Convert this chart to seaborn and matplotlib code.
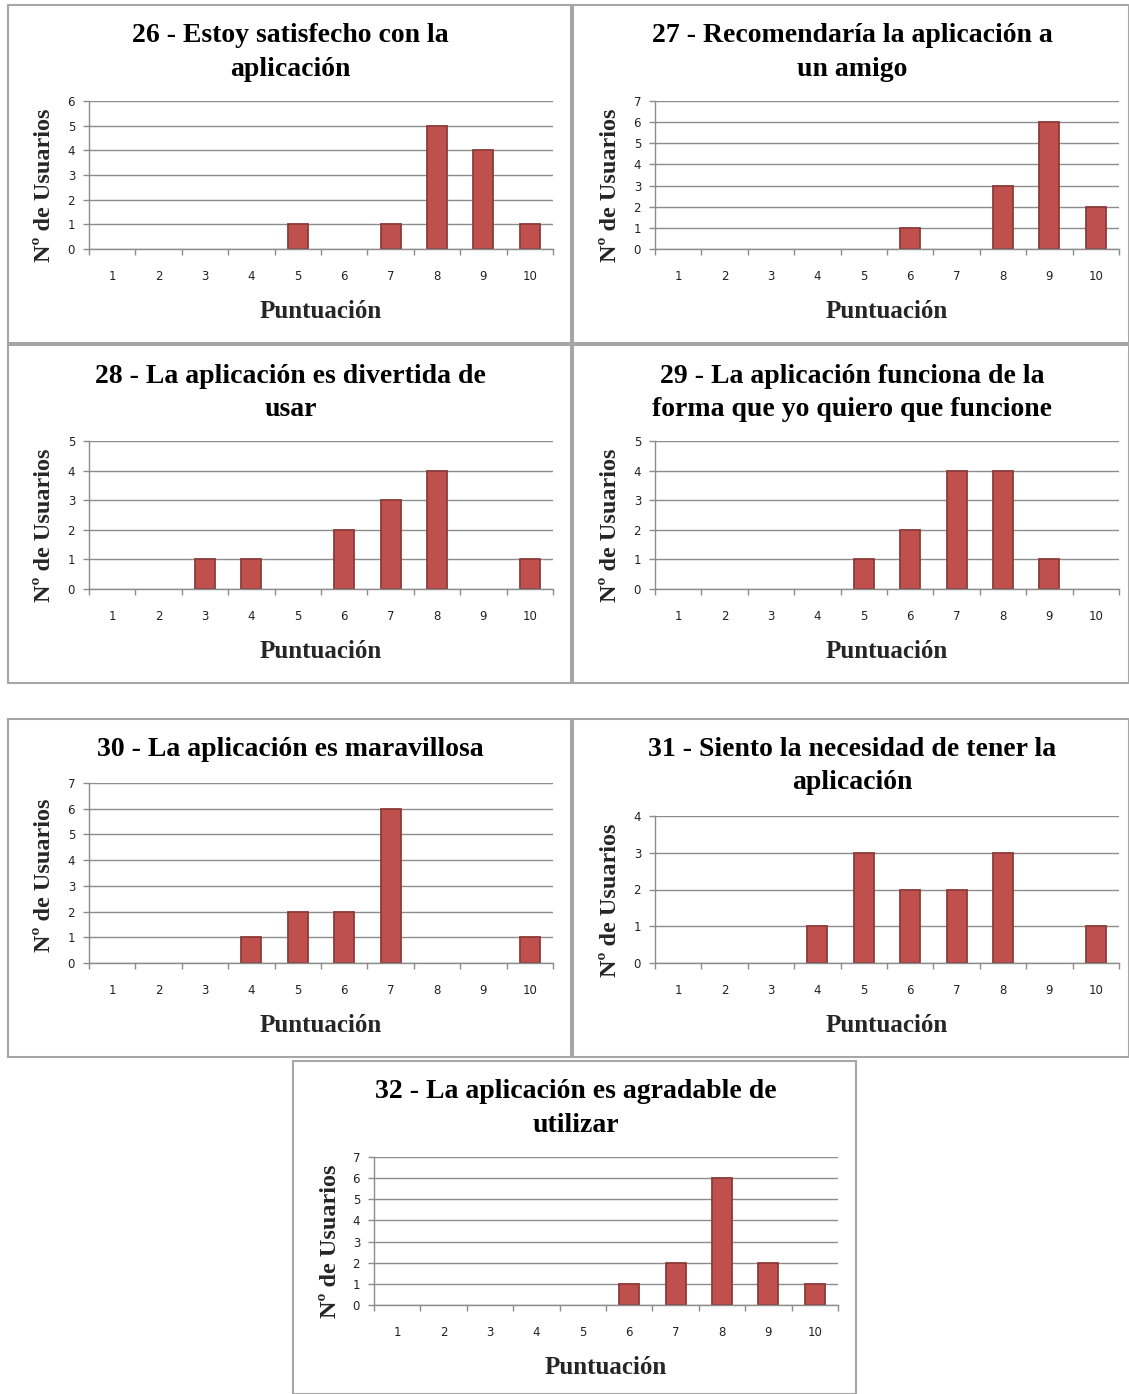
import numpy as np
import pandas as pd
import seaborn as sns
import matplotlib
matplotlib.use("Agg")
import matplotlib.pyplot as plt
from matplotlib.patches import Rectangle
from matplotlib.ticker import FixedLocator

# datos de las preguntas 26 - 32
puntuaciones = [str(i) for i in range(1, 11)]

titulos = [
    ["26 - Estoy satisfecho con la", "aplicación"],
    ["27 - Recomendaría la aplicación a", "un amigo"],
    ["28 - La aplicación es divertida de", "usar"],
    ["29 - La aplicación funciona de la", "forma que yo quiero que funcione"],
    ["30 - La aplicación es maravillosa"],
    ["31 - Siento la necesidad de tener la", "aplicación"],
    ["32 - La aplicación es agradable de", "utilizar"],
]

p26 = [0, 0, 0, 0, 1, 0, 1, 5, 4, 1]
p27 = [0, 0, 0, 0, 0, 1, 0, 3, 6, 2]
p28 = [0, 0, 1, 1, 0, 2, 3, 4, 0, 1]
p29 = [0, 0, 0, 0, 1, 2, 4, 4, 1, 0]
p30 = [0, 0, 0, 1, 2, 2, 6, 0, 0, 1]
p31 = [0, 0, 0, 1, 3, 2, 2, 3, 0, 1]
p32 = [0, 0, 0, 0, 0, 1, 2, 6, 2, 1]
valores = [p26, p27, p28, p29, p30, p31, p32]
y_max = [6, 7, 5, 5, 7, 4, 7]

# posiciones en pixeles (caja, area del grafico, centro etiqueta y)
W, H = 1129, 1394
cajas = [(8, 5, 571, 343), (573, 5, 1129, 343),
         (8, 345, 571, 683), (573, 345, 1129, 683),
         (8, 719, 571, 1057), (573, 719, 1129, 1057),
         (293, 1061, 856, 1394)]
areas = [(89, 101, 553, 249), (655, 101, 1119, 249),
         (89, 441, 553, 589), (655, 441, 1119, 589),
         (89, 783, 553, 963), (655, 816, 1119, 963),
         (374, 1157, 838, 1305)]
ylab_y = [185, 185, 525, 525, 875, 900, 1241]

sns.set_style("white")
plt.rcParams['font.family'] = ['DejaVu Sans']

rojo = "#C0504D"
borde = "#8C3B39"
gris = "#8C8C8C"
serif = {'family': 'Liberation Serif', 'weight': 'bold'}

fig = plt.figure(figsize=(W / 100, H / 100), dpi=100)


def fx(x):
    return x / W


def fy(y):
    return 1 - y / H


for i in range(7):
    bx0, by0, bx1, by1 = cajas[i]
    fig.patches.append(Rectangle((fx(bx0), fy(by1)), fx(bx1 - bx0), (by1 - by0) / H,
                                 transform=fig.transFigure, fill=False,
                                 edgecolor="#A6A6A6", linewidth=1.5))

    x0, y0, x1, y1 = areas[i]
    ax = fig.add_axes([fx(x0), fy(y1), fx(x1 - x0), (y1 - y0) / H])
    df = pd.DataFrame({'Puntuación': puntuaciones, 'Usuarios': valores[i]})
    sns.barplot(data=df, x='Puntuación', y='Usuarios', order=puntuaciones,
                color=rojo, saturation=1, edgecolor=borde, linewidth=1.3,
                width=0.43, ax=ax)
    # las barras vacias no se dibujan
    for p in ax.patches:
        if p.get_height() == 0:
            p.set_visible(False)
    ax.set_xlim(-0.5, 9.5)
    ax.set_ylim(0, y_max[i])
    ax.set_yticks(range(y_max[i] + 1))
    ax.yaxis.grid(True, color=gris, linewidth=1)
    ax.set_axisbelow(True)
    for s in ['top', 'right']:
        ax.spines[s].set_visible(False)
    for s in ['left', 'bottom']:
        ax.spines[s].set_color(gris)
        ax.spines[s].set_linewidth(1)
    ax.xaxis.set_minor_locator(FixedLocator(np.arange(-0.5, 10, 1)))
    ax.tick_params(axis='x', which='major', length=0, pad=15, labelsize=8.5, colors='#222222')
    ax.tick_params(axis='x', which='minor', length=4, color=gris, width=1, bottom=True)
    ax.tick_params(axis='y', length=4, color=gris, width=1, pad=6, labelsize=8.5,
                   labelcolor='#222222', left=True)
    ax.set_xlabel('')
    ax.set_ylabel('')

    cx = (bx0 + bx1) / 2 + 1
    for j, linea in enumerate(titulos[i]):
        fig.text(fx(cx), fy(by0 + 31 + 33 * j), linea, ha='center', va='center',
                 fontsize=20, color='black', **serif)
    fig.text(fx(bx0 + 37), fy(ylab_y[i]), 'Nº de Usuarios', rotation=90,
             ha='center', va='center', fontsize=17.5, **serif)
    fig.text(fx((x0 + x1) / 2), fy(by0 + 306), 'Puntuación', ha='center',
             va='center', fontsize=18, **serif)

fig.savefig('out.png', dpi=100)
